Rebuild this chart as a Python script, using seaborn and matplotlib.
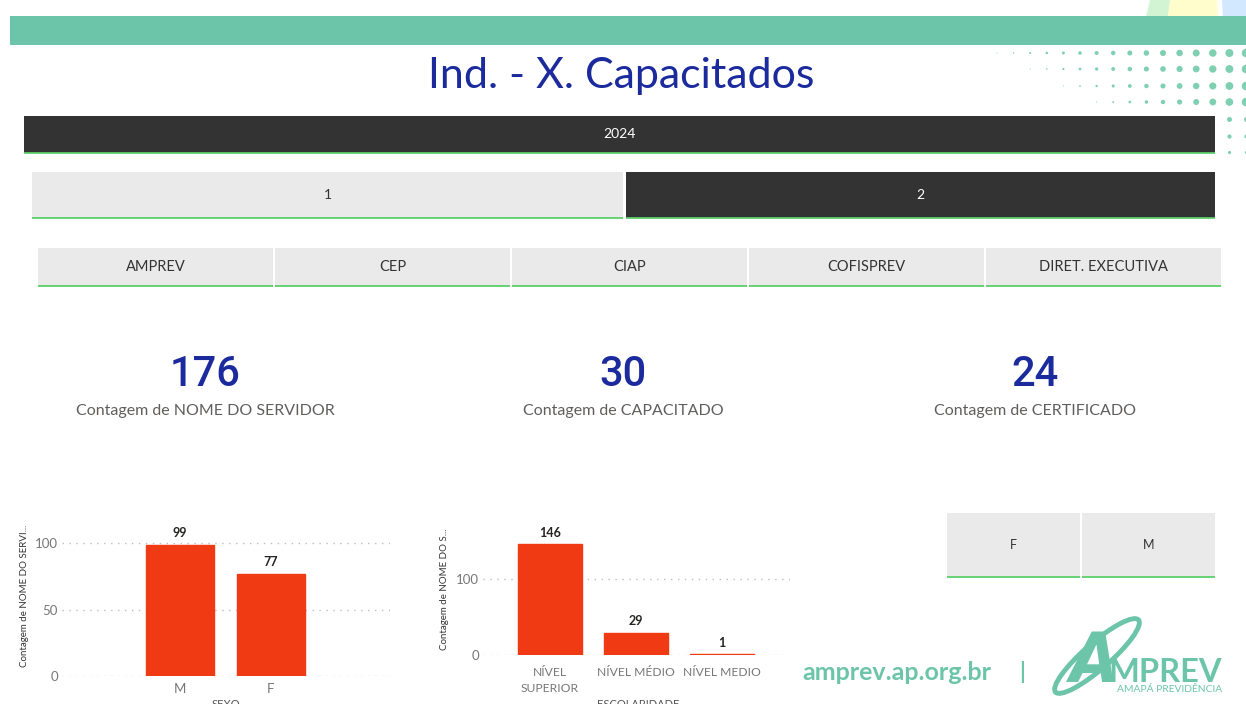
import numpy as np
import pandas as pd
import matplotlib.pyplot as plt
from matplotlib.patches import Rectangle, Ellipse, Polygon
import seaborn as sns

# Dados do painel
sexo = ['M', 'F']
contagem_sexo = [99, 77]
escolaridade = ['NÍVEL\nSUPERIOR', 'NÍVEL MÉDIO', 'NÍVEL MEDIO']
contagem_escolaridade = [146, 29, 1]
kpi_valores = ['176', '30', '24']
kpi_rotulos = ['Contagem de NOME DO SERVIDOR', 'Contagem de CAPACITADO',
               'Contagem de CERTIFICADO']
ano = ['2024']
semestres = ['1', '2']
setores = ['AMPREV', 'CEP', 'CIAP', 'COFISPREV', 'DIRET. EXECUTIVA']
filtro_sexo = ['F', 'M']

TEAL = '#6CC5A8'
DARK = '#333333'
LIGHT = '#EAEAEA'
GREEN = '#5CD068'
BLUE = '#1B2A9C'
RED = '#F03A14'

sns.set_theme(style='white')
plt.rcParams['font.family'] = ['Lato', 'DejaVu Sans']

W, H = 1246, 704
fig = plt.figure(figsize=(W / 100, H / 100), dpi=100)
fig.patch.set_facecolor('white')

bg = fig.add_axes([0, 0, 1, 1])
bg.set_xlim(0, W)
bg.set_ylim(H, 0)
bg.axis('off')


def px_axes(l, t, r, b):
    return fig.add_axes([l / W, 1 - b / H, (r - l) / W, (b - t) / H])


def botao(x0, y0, x1, y1, texto, face, cor, size=10.5):
    bg.add_patch(Rectangle((x0, y0), x1 - x0, y1 - y0, facecolor=face, edgecolor='none'))
    bg.plot([x0, x1], [y1, y1], color=GREEN, lw=1.3, solid_capstyle='butt')
    bg.text((x0 + x1) / 2, (y0 + y1) / 2, texto, ha='center', va='center',
            color=cor, fontsize=size)


# faixa superior e formas claras no canto
bg.add_patch(Polygon([(1150, 0), (1170, 0), (1168, 17), (1146, 17)], facecolor='#D3F4D3', edgecolor='none'))
bg.add_patch(Polygon([(1170, 0), (1217, 0), (1218, 17), (1168, 17)], facecolor='#FFFDCC', edgecolor='none'))
bg.add_patch(Polygon([(1222, 0), (1246, 0), (1246, 17), (1223, 17)], facecolor='#D2E8FF', edgecolor='none'))
bg.add_patch(Rectangle((10, 16), W - 10, 29, facecolor=TEAL, edgecolor='none'))

# padrão de pontos (decoração)
cols = np.arange(997, 1250, 16.6)
linhas = [(53, 997), (69, 1029), (86, 1063), (102, 1096)]
for y, x0 in linhas:
    xs = cols[cols >= x0 - 1]
    d = 1 + 7.5 * (xs - x0) / (1246 - x0)
    bg.scatter(xs, np.full(len(xs), y), s=(d / 1.389) ** 2, color='#7FD0B3', lw=0, zorder=3)
for y, d in [(119, 5), (136, 4.2), (152, 3.2)]:
    bg.scatter([1229, 1246], [y, y], s=(d / 1.389) ** 2, color='#7FD0B3', lw=0, zorder=3)

# título
bg.text(621, 76, 'Ind. - X. Capacitados', ha='center', va='center',
        color=BLUE, fontsize=31)

# segmentações
botao(24, 116, 1215, 153, ano[0], DARK, 'white', 10)
botao(32, 172, 623, 218, semestres[0], LIGHT, DARK, 10)
botao(626, 172, 1215, 218, semestres[1], DARK, 'white', 10)
for i, s in enumerate(setores):
    x0 = 38 + i * 237
    botao(x0, 248, x0 + 235, 286, s, LIGHT, DARK, 10.5)
for i, s in enumerate(filtro_sexo):
    x0 = 947 + i * 135
    botao(x0, 513, x0 + 133, 577, s, LIGHT, DARK, 9)

# cartões
for cx, v, r in zip([205, 623, 1035], kpi_valores, kpi_rotulos):
    bg.text(cx, 374, v, ha='center', va='center', color=BLUE, fontsize=30,
            fontweight='medium', family=['Roboto', 'DejaVu Sans'])
    bg.text(cx, 411, r, ha='center', va='center', color='#605E5C', fontsize=11.5)


def grafico(ax, cats, vals, ymax, ticks, ylabel, lab_x, lab_y, xl, xsize, xpad):
    sns.barplot(x=cats, y=vals, color=RED, saturation=1, width=0.75, ax=ax,
                edgecolor=RED, linewidth=1)
    ax.set_facecolor('none')
    ax.set_ylim(0, ymax)
    ax.set_xlim(*xl)
    ax.set_yticks(ticks)
    ax.yaxis.grid(True, linestyle=(0, (1, 4)), color='#BDBDBD', lw=1)
    ax.set_axisbelow(True)
    sns.despine(ax=ax, left=True, bottom=True)
    ax.tick_params(length=0, colors='#777777', labelsize=9.5, pad=3)
    ax.tick_params(axis='x', labelsize=xsize, pad=xpad)
    for t in ax.get_xticklabels():
        t.set_linespacing(1.45)
    ax.bar_label(ax.containers[0], padding=4, fontsize=9, fontweight='bold', color='#252423')
    ax.set_ylabel(ylabel, fontsize=7, color='#333333')
    ax.yaxis.set_label_coords(lab_x, lab_y)
    ax.set_xlabel('')
    return ax


ax1 = px_axes(62, 530, 390, 676)
grafico(ax1, sexo, contagem_sexo, 110, [0, 50, 100],
        'Contagem de NOME DO SERVI...', -0.100, 0.55, (-1.3, 2.31), 9.5, 5)
bg.text(226, 699, 'SEXO', ha='center', va='top', color='#555555', fontsize=8)

ax2 = px_axes(483, 526, 790, 655)
grafico(ax2, escolaridade, contagem_escolaridade, 170, [0, 100],
        'Contagem de NOME DO S...', -0.110, 0.51, (-0.78, 2.79), 8.7, 9)
bg.text(638, 699, 'ESCOLARIDADE', ha='center', va='top', color='#555555', fontsize=8)

# rodapé / logotipo
bg.text(897, 672, 'amprev.ap.org.br', ha='center', va='center', color=TEAL,
        fontsize=18, fontweight='bold')
bg.text(1022, 672, '|', ha='center', va='center', color=TEAL, fontsize=16, fontweight='bold')
bg.add_patch(Ellipse((1097, 656), 110, 26, angle=-41, facecolor='none',
                     edgecolor=TEAL, lw=3.5))
bg.text(1093, 682, 'A', ha='center', va='baseline', color=TEAL, fontsize=50,
        fontweight='bold', style='italic', family='DejaVu Sans', stretch='condensed')
bg.text(1165, 682, 'MPREV', ha='center', va='baseline', color=TEAL, fontsize=23.5,
        fontweight='bold')
bg.text(1170, 690, 'AMAPÁ PREVIDÊNCIA', ha='center', va='center', color=TEAL, fontsize=7.4)

fig.savefig('out.png', dpi=100)
